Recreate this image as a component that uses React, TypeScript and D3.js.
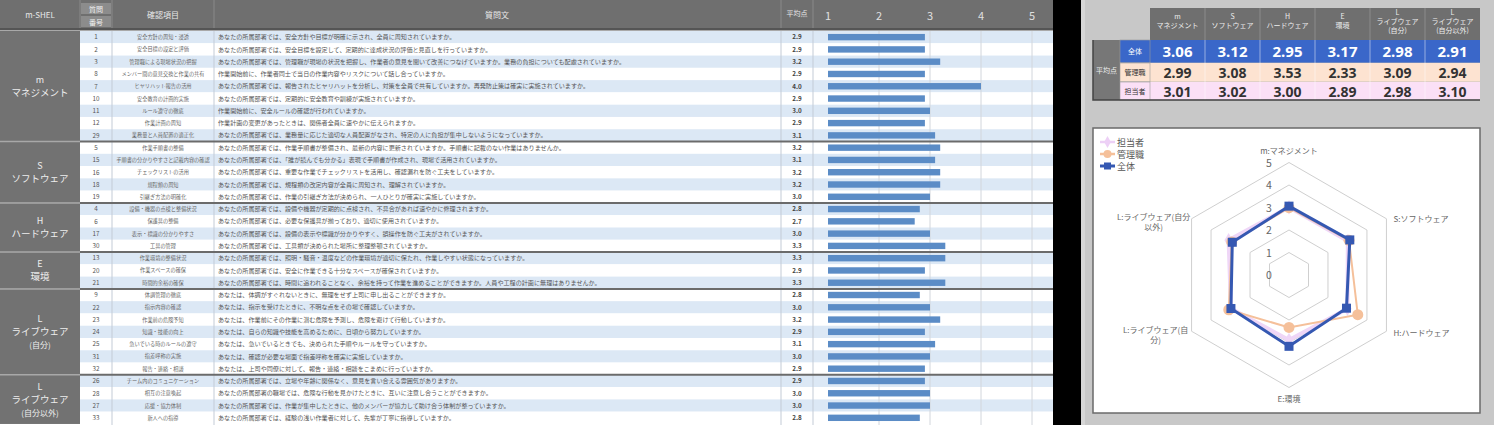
import React from 'react'
import * as d3 from 'd3'

const W = 1494
const H = 425
const FONT = '"Noto Sans CJK JP", "Noto Sans", sans-serif'

// ---- left table data ----
const groupLabels = [
  ['m', 'マネジメント'],
  ['S', 'ソフトウェア'],
  ['H', 'ハードウェア'],
  ['E', '環境'],
  ['L', 'ライブウェア', '(自分)'],
  ['L', 'ライブウェア', '(自分以外)']
]
const groupSizes = [9, 5, 4, 3, 7, 4]
const questionNos = [
  1, 2, 3, 8, 7, 10, 11, 12, 29,
  5, 15, 16, 18, 19,
  4, 6, 17, 30,
  13, 20, 21,
  9, 22, 23, 24, 25, 31, 32,
  26, 28, 27, 33
]
const itemLabels = [
  '安全方針の周知・浸透', '安全目標の設定と評価', '管理職による現場状況の把握', 'メンバー間の意見交換と作業の共有',
  'ヒヤリハット報告の活用', '安全教育の計画的実施', 'ルール遵守の徹底', '作業計画の周知', '業務量と人員配置の適正化',
  '作業手順書の整備', '手順書の分かりやすさと記載内容の確認', 'チェックリストの活用', '規程類の周知', '引継ぎ方法の明確化',
  '設備・機器の点検と整備状況', '保護具の整備', '表示・標識の分かりやすさ', '工具の管理',
  '作業環境の整備状況', '作業スペースの確保', '時間的余裕の確保',
  '体調管理の徹底', '指示内容の確認', '作業前の危険予知', '知識・技能の向上', '急いでいる時のルールの遵守', '指差呼称の実施', '報告・連絡・相談',
  'チーム内のコミュニケーション', '相互の注意喚起', '応援・協力体制', '新人への指導'
]
const questionTexts = [
  'あなたの所属部署では、安全方針や目標が明確に示され、全員に周知されていますか。',
  'あなたの所属部署では、安全目標を設定して、定期的に達成状況の評価と見直しを行っていますか。',
  'あなたの所属部署では、管理職が現場の状況を把握し、作業者の意見を聞いて改善につなげていますか。業務の負担についても配慮されていますか。',
  '作業開始前に、作業者同士で当日の作業内容やリスクについて話し合っていますか。',
  'あなたの所属部署では、報告されたヒヤリハットを分析し、対策を全員で共有していますか。再発防止策は確実に実施されていますか。',
  'あなたの所属部署では、定期的に安全教育や訓練が実施されていますか。',
  '作業開始前に、安全ルールの確認が行われていますか。',
  '作業計画の変更があったときは、関係者全員に速やかに伝えられますか。',
  'あなたの所属部署では、業務量に応じた適切な人員配置がなされ、特定の人に負担が集中しないようになっていますか。',
  'あなたの所属部署では、作業手順書が整備され、最新の内容に更新されていますか。手順書に記載のない作業はありませんか。',
  'あなたの所属部署では、「誰が読んでも分かる」表現で手順書が作成され、現場で活用されていますか。',
  'あなたの所属部署では、重要な作業でチェックリストを活用し、確認漏れを防ぐ工夫をしていますか。',
  'あなたの所属部署では、規程類の改定内容が全員に周知され、理解されていますか。',
  'あなたの所属部署では、作業の引継ぎ方法が決められ、一人ひとりが確実に実施していますか。',
  'あなたの所属部署では、設備や機器が定期的に点検され、不具合があれば速やかに修理されますか。',
  'あなたの所属部署では、必要な保護具が揃っており、適切に使用されていますか。',
  'あなたの所属部署では、設備の表示や標識が分かりやすく、誤操作を防ぐ工夫がされていますか。',
  'あなたの所属部署では、工具類が決められた場所に整理整頓されていますか。',
  'あなたの所属部署では、照明・騒音・温度などの作業環境が適切に保たれ、作業しやすい状態になっていますか。',
  'あなたの所属部署では、安全に作業できる十分なスペースが確保されていますか。',
  'あなたの所属部署では、時間に追われることなく、余裕を持って作業を進めることができますか。人員や工程の計画に無理はありませんか。',
  'あなたは、体調がすぐれないときに、無理をせず上司に申し出ることができますか。',
  'あなたは、指示を受けたときに、不明な点をその場で確認していますか。',
  'あなたは、作業前にその作業に潜む危険を予測し、危険を避けて行動していますか。',
  'あなたは、自らの知識や技能を高めるために、日頃から努力していますか。',
  'あなたは、急いでいるときでも、決められた手順やルールを守っていますか。',
  'あなたは、確認が必要な場面で指差呼称を確実に実施していますか。',
  'あなたは、上司や同僚に対して、報告・連絡・相談をこまめに行っていますか。',
  'あなたの所属部署では、立場や年齢に関係なく、意見を言い合える雰囲気がありますか。',
  'あなたの所属部署の職場では、危険な行動を見かけたときに、互いに注意し合うことができますか。',
  'あなたの所属部署では、作業が集中したときに、他のメンバーが協力して助け合う体制が整っていますか。',
  'あなたの所属部署では、経験の浅い作業者に対して、先輩が丁寧に指導していますか。'
]
const avgScores = [
  2.9, 2.9, 3.2, 2.9, 4.0, 2.9, 3.0, 2.9, 3.1,
  3.2, 3.1, 3.2, 3.2, 3.0,
  2.8, 2.7, 3.0, 3.3,
  3.3, 2.9, 3.3,
  2.8, 3.0, 3.2, 2.9, 3.1, 3.0, 2.9,
  2.9, 3.0, 3.0, 2.8
]
const barTicks = [1, 2, 3, 4, 5]

// ---- summary table / radar data ----
const summaryHeaders = [
  ['m', 'マネジメント'],
  ['S', 'ソフトウェア'],
  ['H', 'ハードウェア'],
  ['E', '環境'],
  ['L', 'ライブウェア', '(自分)'],
  ['L', 'ライブウェア', '(自分以外)']
]
const seriesNames = ['全体', '管理職', '担当者']
const totalValues = [3.06, 3.12, 2.95, 3.17, 2.98, 2.91]
const managerValues = [2.99, 3.08, 3.53, 2.33, 3.09, 2.94]
const staffValues = [3.01, 3.02, 3.0, 2.89, 2.98, 3.1]
const radarAxisLabels = [
  ['m:マネジメント'],
  ['S:ソフトウェア'],
  ['H:ハードウェア'],
  ['E:環境'],
  ['L:ライブウェア(自', '分)'],
  ['L:ライブウェア(自分', '以外)']
]
const radarRings = [1, 2, 3, 4, 5]
const ringLabels = [0, 1, 2, 3, 4, 5]

const COLS = [0, 80, 112, 214, 781, 813, 1053]
const HEADER_BG = '#6f6f6f'
const BAR_COLOR = '#5b8cc6'
const STRIPE = '#dce8f5'
const BLUE = '#3a67c9'
const PEACH = '#fde3d1'
const PINK = '#fbe0f6'

function LeftTable() {
  const rowY = d3.scaleLinear().domain([0, 32]).range([31, 31 + 32 * 12.28])
  const rowH = rowY(1) - rowY(0)
  const barX = d3.scaleLinear().domain([1, 5]).range([828, 1032])
  const starts = Array.from(d3.cumsum([0, ...groupSizes]))
  const tx = { fontFamily: FONT }
  return (
    <g>
      <rect x={0} y={0} width={1053} height={H} fill="#ffffff" />
      {avgScores.map((v, i) => (
        <rect key={'s' + i} x={80} y={rowY(i)} width={973} height={rowH}
          fill={i % 2 === 0 ? STRIPE : '#ffffff'} />
      ))}
      {/* header */}
      <rect x={0} y={0} width={1053} height={29} fill={HEADER_BG} />
      <rect x={0} y={28} width={1053} height={2.5} fill="#555" />
      {COLS.slice(1, 6).map(x => (
        <line key={'hc' + x} x1={x} x2={x} y1={0} y2={28} stroke="#8a8a8a" strokeWidth={1} />
      ))}
      <rect x={81} y={3} width={30} height={11} fill="#8c8c8c" />
      <rect x={81} y={16} width={30} height={11} fill="#8c8c8c" />
      <text x={40} y={18} fill="#e8e8e8" fontSize={8} textAnchor="middle" style={tx}>m-SHEL</text>
      <text x={96} y={12} fill="#f0f0f0" fontSize={7} textAnchor="middle" style={tx}>質問</text>
      <text x={96} y={25} fill="#f0f0f0" fontSize={7} textAnchor="middle" style={tx}>番号</text>
      <text x={163} y={18} fill="#e8e8e8" fontSize={8} textAnchor="middle" style={tx}>確認項目</text>
      <text x={497} y={18} fill="#e8e8e8" fontSize={8} textAnchor="middle" style={tx}>質問文</text>
      <text x={797} y={16} fill="#e8e8e8" fontSize={7} textAnchor="middle" style={tx}>平均点</text>
      {barTicks.map(t => (
        <text key={'bt' + t} x={barX(t)} y={20} fill="#e0e0e0" fontSize={11} textAnchor="middle" style={tx}>{t}</text>
      ))}
      {/* grid & column lines in body */}
      {barTicks.slice(1).map(t => (
        <line key={'g' + t} x1={barX(t)} x2={barX(t)} y1={31} y2={H} stroke="#d2d6dc" strokeWidth={1} />
      ))}
      {COLS.slice(2, 6).map(x => (
        <line key={'bc' + x} x1={x} x2={x} y1={31} y2={H} stroke="#c3cbd6" strokeWidth={1} />
      ))}
      {/* rows */}
      {avgScores.map((v, i) => {
        const cy = rowY(i) + rowH / 2
        return (
          <g key={'r' + i}>
            <text x={96} y={cy + 2.3} fontSize={6.3} fill="#555" textAnchor="middle" style={tx}>{questionNos[i]}</text>
            <text x={163} y={cy + 2} fontSize={5.2} fill="#666" textAnchor="middle" style={tx}>{itemLabels[i]}</text>
            <text x={218} y={cy + 2.1} fontSize={6.1} fill="#555" style={tx}>{questionTexts[i]}</text>
            <text x={797} y={cy + 2.3} fontSize={6.3} fontWeight="bold" fill="#444" textAnchor="middle" style={tx}>{v.toFixed(1)}</text>
            <rect x={barX(1)} y={cy - 3.2} width={barX(v) - barX(1)} height={6.4} fill={BAR_COLOR} />
          </g>
        )
      })}
      {/* group column */}
      {groupLabels.map((lines, gi) => {
        const y0 = rowY(starts[gi])
        const y1 = rowY(starts[gi + 1])
        const mid = (y0 + y1) / 2
        const lh = 13
        const first = mid - ((lines.length - 1) * lh) / 2
        return (
          <g key={'grp' + gi}>
            <rect x={0} y={y0} width={80} height={y1 - y0} fill="#727272" />
            {lines.map((s, li) => (
              <text key={li} x={40} y={first + li * lh + 3.5} fill="#eeeeee"
                fontSize={li === 0 ? 9 : li === 2 ? 8 : 9.5} textAnchor="middle" style={tx}>{s}</text>
            ))}
          </g>
        )
      })}
      {starts.slice(1, 6).map(s => (
        <g key={'sep' + s}>
          <line x1={0} x2={80} y1={rowY(s)} y2={rowY(s)} stroke="#a8a8a8" strokeWidth={1.5} />
          <line x1={80} x2={1053} y1={rowY(s)} y2={rowY(s)} stroke="#6b6b6b" strokeWidth={2} />
        </g>
      ))}
    </g>
  )
}

function SummaryTable() {
  const colX = d3.scaleBand<number>().domain(d3.range(6)).range([1150, 1480])
  const rowTops = [40, 63, 82, 100]
  const rowFill = [BLUE, PEACH, PINK]
  const rowText = ['#ffffff', '#333333', '#333333']
  const series = [totalValues, managerValues, staffValues]
  const tx = { fontFamily: FONT }
  return (
    <g>
      <rect x={1150} y={8} width={330} height={32} fill={HEADER_BG} />
      {summaryHeaders.map((lines, i) => {
        const cx = colX(i)! + colX.bandwidth() / 2
        const first = lines.length === 3 ? 15 : 19
        return (
          <g key={'sh' + i}>
            {i > 0 && <line x1={colX(i)} x2={colX(i)} y1={8} y2={40} stroke="#8c8c8c" />}
            {lines.map((s, li) => (
              <text key={li} x={cx} y={first + li * 9} fill="#eeeeee" fontSize={7} textAnchor="middle" style={tx}>{s}</text>
            ))}
          </g>
        )
      })}
      <rect x={1093} y={40} width={27} height={60} fill="#777" />
      <text x={1106.5} y={73} fill="#eee" fontSize={7} textAnchor="middle" style={tx}>平均点</text>
      {series.map((vals, ri) => (
        <g key={'sr' + ri}>
          <rect x={1120} y={rowTops[ri]} width={360} height={rowTops[ri + 1] - rowTops[ri]} fill={rowFill[ri]} />
          <rect x={1120} y={rowTops[ri]} width={30} height={rowTops[ri + 1] - rowTops[ri]}
            fill={ri === 0 ? '#3a67c9' : rowFill[ri]} stroke="#9a9a9a" strokeWidth={0.6} />
          <text x={1135} y={(rowTops[ri] + rowTops[ri + 1]) / 2 + 2.5} fontSize={7} fill={rowText[ri]} textAnchor="middle" style={tx}>{seriesNames[ri]}</text>
          {vals.map((v, ci) => (
            <text key={ci} x={colX(ci)! + colX.bandwidth() / 2} y={(rowTops[ri] + rowTops[ri + 1]) / 2 + 5.5}
              fontSize={ri === 0 ? 15 : 14} fontWeight="bold" fill={rowText[ri]} textAnchor="middle"
              style={{ fontFamily: '"Noto Sans", sans-serif' }}>{v.toFixed(2)}</text>
          ))}
          <line x1={1120} x2={1480} y1={rowTops[ri + 1]} y2={rowTops[ri + 1]} stroke="#b5b5b5" strokeWidth={0.8} />
        </g>
      ))}
      {d3.range(1, 6).map(i => (
        <line key={'cv' + i} x1={colX(i)} x2={colX(i)} y1={40} y2={100} stroke="#ffffff" strokeOpacity={0.6} strokeWidth={0.8} />
      ))}
      <path d="M1093,40 V100 H1480" fill="none" stroke="#444" strokeWidth={1.5} />
    </g>
  )
}

function Radar() {
  const cx = 1289
  const cy = 275
  const r = d3.scaleLinear().domain([0, 5]).range([0, 112.5])
  const ang = (i: number) => (i * Math.PI) / 3
  const pt = (i: number, v: number): [number, number] => [cx + r(v) * Math.sin(ang(i)), cy - r(v) * Math.cos(ang(i))]
  const radial = d3.lineRadial<number>()
    .angle((_, i) => ang(i))
    .radius(d => r(d))
    .curve(d3.curveLinearClosed)
  const tx = { fontFamily: FONT }
  const labelPos = (i: number): [number, number, string] => {
    const [x, y] = pt(i, 5)
    if (i === 0) return [x, y - 9, 'middle']
    if (i === 1) return [x + 7, y + 3, 'start']
    if (i === 2) return [x + 7, y + 5, 'start']
    if (i === 3) return [x, y + 14, 'middle']
    if (i === 4) return [x - 36, y + 2, 'middle']
    return [x - 38, y + 1, 'middle']
  }
  const legend = [
    { name: '担当者', color: '#edd0f6', y: 142 },
    { name: '管理職', color: '#f5c09a', y: 154 },
    { name: '全体', color: '#3558b2', y: 166 }
  ]
  return (
    <g>
      <rect x={1093} y={128} width={387} height={285} fill="#ffffff" stroke="#6a6a6a" strokeWidth={1.5} />
      {radarRings.map(k => (
        <path key={'ring' + k} d={radial([k, k, k, k, k, k]) || ''} transform={`translate(${cx},${cy})`}
          fill="none" stroke="#cfcfcf" strokeWidth={1} />
      ))}
      {ringLabels.map(k => (
        <text key={'rl' + k} x={cx - 20} y={cy - r(k) + 4} fontSize={10.5} fill="#666" textAnchor="middle" style={tx}>{k}</text>
      ))}
      {radarAxisLabels.map((lines, i) => {
        const [x, y, anchor] = labelPos(i)
        return (
          <text key={'al' + i} x={x} y={y} fontSize={8} fill="#666" textAnchor={anchor as any} style={tx}>
            {lines.map((s, li) => (
              <tspan key={li} x={x} dy={li === 0 ? 0 : 10}>{s}</tspan>
            ))}
          </text>
        )
      })}
      {/* 担当者 */}
      <path d={radial(staffValues) || ''} transform={`translate(${cx},${cy})`} fill="none" stroke="#efd6f7" strokeWidth={4} />
      {staffValues.map((v, i) => {
        const [x, y] = pt(i, v)
        return <path key={'sd' + i} d={d3.symbol(d3.symbolDiamond, 60)() || ''} transform={`translate(${x},${y})`} fill="#efd6f7" />
      })}
      {/* 管理職 */}
      <path d={radial(managerValues) || ''} transform={`translate(${cx},${cy})`} fill="none" stroke="#f5c09a" strokeWidth={2} />
      {managerValues.map((v, i) => {
        const [x, y] = pt(i, v)
        return <circle key={'mc' + i} cx={x} cy={y} r={5.5} fill="#f5c09a" />
      })}
      {/* 全体 */}
      <path d={radial(totalValues) || ''} transform={`translate(${cx},${cy})`} fill="none" stroke="#3558b2" strokeWidth={3} />
      {totalValues.map((v, i) => {
        const [x, y] = pt(i, v)
        return <rect key={'ts' + i} x={x - 4.5} y={y - 4.5} width={9} height={9} fill="#3558b2" />
      })}
      {legend.map((l, i) => (
        <g key={'lg' + i}>
          <line x1={1100} x2={1115} y1={l.y} y2={l.y} stroke={l.color} strokeWidth={i === 2 ? 3 : 2.5} />
          {i === 0 && <path d={d3.symbol(d3.symbolDiamond, 40)() || ''} transform={`translate(1107.5,${l.y})`} fill={l.color} />}
          {i === 1 && <circle cx={1107.5} cy={l.y} r={4} fill={l.color} />}
          {i === 2 && <rect x={1104} y={l.y - 3.5} width={7} height={7} fill={l.color} />}
          <text x={1117} y={l.y + 3.5} fontSize={9} fill="#555" style={tx}>{l.name}</text>
        </g>
      ))}
    </g>
  )
}

export default function App() {
  return (
    <div style={{ position: 'absolute', left: 0, top: 0 }}>
      <svg width={W} height={H} style={{ display: 'block' }}>
        <rect x={0} y={0} width={W} height={H} fill="#000" />
        <LeftTable />
        <rect x={1081} y={0} width={413} height={H} fill="#c8c8c8" />
        <rect x={1081} y={0} width={4} height={H} fill="#d6d6d6" />
        <SummaryTable />
        <Radar />
      </svg>
    </div>
  )
}
